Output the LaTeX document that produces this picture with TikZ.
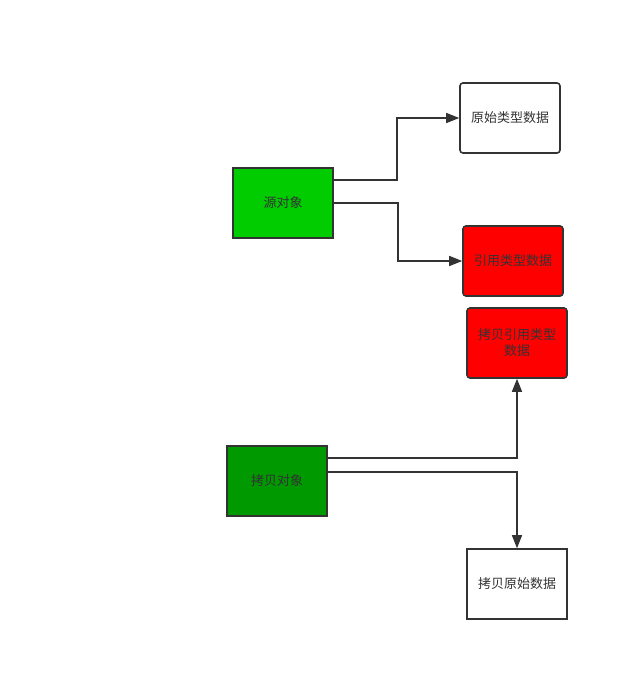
\documentclass[tikz,border=0pt]{standalone}
\usepackage{fontspec}
\setmainfont{Noto Sans CJK SC}
\usetikzlibrary{arrows.meta}
\definecolor{edge}{HTML}{333333}
\definecolor{srcgreen}{HTML}{00CC00}
\definecolor{cpygreen}{HTML}{009900}
\definecolor{boxred}{HTML}{FF0000}
\tikzset{
  box/.style={draw=edge, line width=1.6pt, minimum width=100pt, minimum height=70pt,
    inner sep=0pt, text=edge, font=\fontsize{13}{16}\selectfont, align=center},
  rbox/.style={box, rounded corners=3pt},
  conn/.style={draw=edge, line width=1.4pt, -{Triangle[length=13pt,width=10pt]}},
}
\begin{document}
\begin{tikzpicture}[x=1pt,y=-1pt]
\path[fill=white] (0,0) rectangle (629,681);
\useasboundingbox (0,0) rectangle (629,681);
\node[rbox, fill=white] (prim) at (510,118) {原始类型数据};
\node[box, fill=srcgreen] (src) at (283,203) {源对象};
\node[rbox, fill=boxred] (ref) at (513,261) {引用类型数据};
\node[rbox, fill=boxred] (cref) at (517,343) {拷贝引用类型\\数据};
\node[box, fill=cpygreen] (cpy) at (277,481) {拷贝对象};
\node[box, fill=white] (cprim) at (517,584) {拷贝原始数据};
\coordinate (a1) at (397,180);
\coordinate (a2) at (398,203);
\draw[conn] ([yshift=23pt]src.east) -- (a1) |- (prim.west);
\draw[conn] (src.east) -- (a2) |- (ref.west);
\draw[conn] ([yshift=23pt]cpy.east) -| (cref.south);
\draw[conn] ([yshift=9pt]cpy.east) -| (cprim.north);
\end{tikzpicture}
\end{document}
